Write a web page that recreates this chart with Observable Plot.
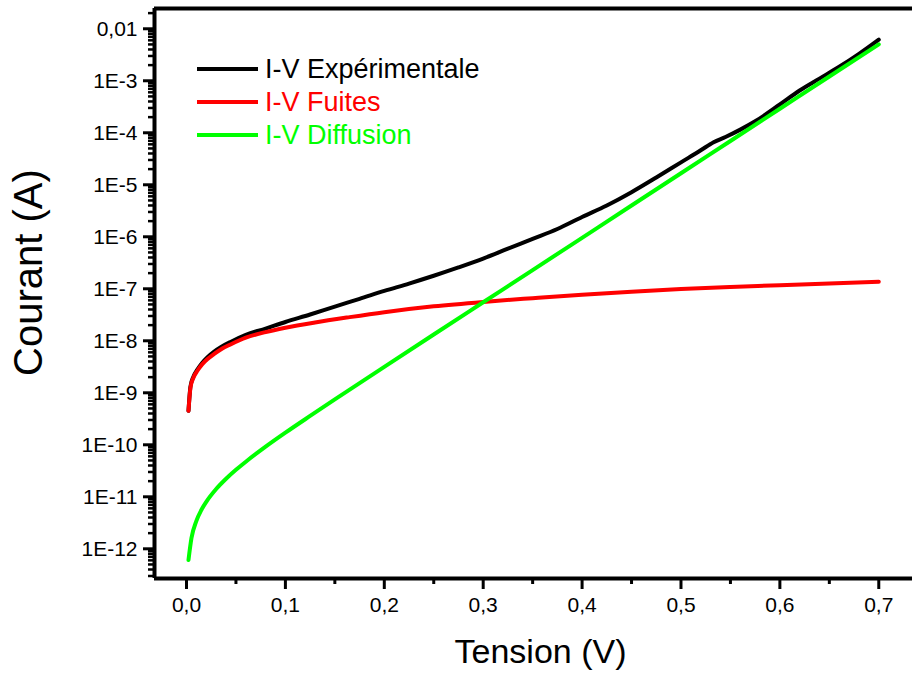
<!DOCTYPE html>
<html>
<head>
<meta charset="utf-8">
<script src="https://cdn.jsdelivr.net/npm/d3@7"></script>
<script src="https://cdn.jsdelivr.net/npm/@observablehq/plot@0.6"></script>
<style>
  html, body { margin: 0; padding: 0; background: #fff; }
  #wrap { position: relative; width: 912px; height: 677px; overflow: hidden; }
  #legend { position: absolute; left: 0; top: 0; }
  text { font-family: "Liberation Sans", Arial, sans-serif; }
</style>
</head>
<body>
<div id="wrap"><div id="chart"></div><svg id="legend" width="912" height="677"></svg></div>
<script>
// ---- Data ----
const expV = [0.002,0.004,0.007,0.011,0.016,0.021,0.028,0.035,0.045,0.06,0.08,0.1,0.125,0.15,0.175,0.2,0.225,0.25,0.275,0.3,0.325,0.35,0.375,0.4,0.425,0.45,0.475,0.5,0.52,0.533,0.545,0.56,0.575,0.6,0.62,0.64,0.66,0.68,0.7];
const expI = [4.5e-10,1.32e-9,2.05e-9,2.8e-9,3.8e-9,4.8e-9,6.2e-9,7.6e-9,9.6e-9,1.3e-8,1.72e-8,2.3e-8,3.2e-8,4.55e-8,6.4e-8,9.1e-8,1.26e-7,1.78e-7,2.57e-7,3.8e-7,5.9e-7,9.1e-7,1.41e-6,2.4e-6,4.0e-6,7.2e-6,1.38e-5,2.7e-5,4.6e-5,6.6e-5,8.3e-5,1.15e-4,1.66e-4,3.5e-4,6.5e-4,1.1e-3,1.86e-3,3.3e-3,6.2e-3];

const fuitesV = [0.002,0.004,0.007,0.011,0.016,0.021,0.028,0.035,0.045,0.06,0.08,0.1,0.13,0.165,0.2,0.25,0.3,0.35,0.4,0.45,0.5,0.55,0.6,0.65,0.7];
const fuitesI = [4.5e-10,1.25e-9,1.95e-9,2.65e-9,3.55e-9,4.4e-9,5.6e-9,6.9e-9,8.6e-9,1.15e-8,1.47e-8,1.78e-8,2.25e-8,2.85e-8,3.55e-8,4.6e-8,5.6e-8,6.6e-8,7.7e-8,8.8e-8,9.9e-8,1.085e-7,1.17e-7,1.27e-7,1.37e-7];

const diffV = [0.002,0.005,0.01,0.015,0.02,0.03,0.04,0.05,0.06,0.08,0.1,0.125,0.15,0.2,0.25,0.3,0.35,0.4,0.45,0.5,0.55,0.6,0.65,0.7];
const diffI = [6.1e-13,1.6e-12,3.44e-12,5.57e-12,8.0e-12,1.41e-11,2.22e-11,3.3e-11,4.73e-11,9.2e-11,1.71e-10,3.59e-10,7.45e-10,3.15e-9,1.32e-8,5.5e-8,2.29e-7,9.56e-7,3.99e-6,1.67e-5,6.95e-5,2.9e-4,1.21e-3,5.0e-3];

const seriesNames = ["I-V Expérimentale", "I-V Fuites", "I-V Diffusion"];
const seriesColors = ["#000000", "#ff0000", "#00ff00"];

const xTickValues = [0, 0.1, 0.2, 0.3, 0.4, 0.5, 0.6, 0.7];
const xTickLabels = ["0,0", "0,1", "0,2", "0,3", "0,4", "0,5", "0,6", "0,7"];
const xMinorTicks = [0.05, 0.15, 0.25, 0.35, 0.45, 0.55, 0.65];
const yTickValues = [1e-12, 1e-11, 1e-10, 1e-9, 1e-8, 1e-7, 1e-6, 1e-5, 1e-4, 1e-3, 1e-2];
const yTickLabels = ["1E-12", "1E-11", "1E-10", "1E-9", "1E-8", "1E-7", "1E-6", "1E-5", "1E-4", "1E-3", "0,01"];
const xTitle = "Tension (V)";
const yTitle = "Courant (A)";

// ---- Build tables ----
const toRows = (V, I) => V.map((v, i) => ({v, i: I[i]}));
const expRows = toRows(expV, expI);
const fuitesRows = toRows(fuitesV, fuitesI);
const diffRows = toRows(diffV, diffI);

const xDomain = [-0.03236, 0.7341];
const yDomain = [2.685e-13, 0.02454];

const yMinor = [];
for (let e = -13; e <= -2; e++) {
  for (let m = 2; m <= 9; m++) {
    const v = +(m + "e" + e);
    if (v > yDomain[0] && v < yDomain[1]) yMinor.push(v);
  }
}
const xLabelMap = new Map(xTickValues.map((d, i) => [d, xTickLabels[i]]));
const yLabelMap = new Map(yTickValues.map((d, i) => [d, yTickLabels[i]]));

const FONT = '"Liberation Sans", Arial, sans-serif';

const chart = Plot.plot({
  width: 912,
  height: 677,
  marginLeft: 154,
  marginRight: 0,
  marginTop: 8,
  marginBottom: 99,
  style: {fontFamily: FONT, background: "#fff", color: "#000", overflow: "visible"},
  x: {domain: xDomain},
  y: {type: "log", domain: yDomain},
  marks: [
    // axes: minor ticks
    Plot.axisY(yMinor, {anchor: "left", tickSize: 6, tickFormat: () => "", strokeWidth: 2.5, label: null}),
    Plot.axisX(xMinorTicks, {anchor: "bottom", tickSize: 6, tickFormat: () => "", strokeWidth: 3, label: null}),
    // axes: major ticks with labels
    Plot.axisY(yTickValues, {anchor: "left", tickSize: 11, tickPadding: 6, fontSize: 21, strokeWidth: 3, tickFormat: d => yLabelMap.get(d), label: null}),
    Plot.axisX(xTickValues, {anchor: "bottom", tickSize: 11, tickPadding: 8, fontSize: 21, strokeWidth: 3, tickFormat: d => xLabelMap.get(d), label: null}),
    // frame lines (left, bottom, top)
    Plot.ruleX([xDomain[0]], {stroke: "#000", strokeWidth: 4}),
    Plot.ruleY([yDomain[0]], {stroke: "#000", strokeWidth: 4}),
    Plot.ruleY([yDomain[1]], {stroke: "#000", strokeWidth: 4}),
    // data curves
    Plot.line(expRows, {x: "v", y: "i", stroke: seriesColors[0], strokeWidth: 4, curve: "monotone-x"}),
    Plot.line(fuitesRows, {x: "v", y: "i", stroke: seriesColors[1], strokeWidth: 4, curve: "monotone-x"}),
    Plot.line(diffRows, {x: "v", y: "i", stroke: seriesColors[2], strokeWidth: 4, curve: "monotone-x"}),
    // axis titles
    Plot.text([xTitle], {frameAnchor: "bottom", textAnchor: "middle", dx: 7, dy: 84, fontSize: 34, fill: "#000"}),
    Plot.text([yTitle], {frameAnchor: "left", textAnchor: "middle", rotate: -90, dx: -125, dy: -21, fontSize: 40, fill: "#000"})
  ]
});
document.getElementById("chart").appendChild(chart);

// ---- Legend (overlay inside the plot area) ----
const lg = d3.select("#legend");
seriesNames.forEach((name, k) => {
  const cy = 69 + k * 33;
  lg.append("line").attr("x1", 197).attr("x2", 258).attr("y1", cy).attr("y2", cy)
    .attr("stroke", seriesColors[k]).attr("stroke-width", 4);
  lg.append("text").attr("x", 265).attr("y", cy).attr("dy", "0.35em")
    .attr("font-size", 27).attr("fill", seriesColors[k])
    .style("font-family", FONT).text(name);
});
</script>
</body>
</html>
